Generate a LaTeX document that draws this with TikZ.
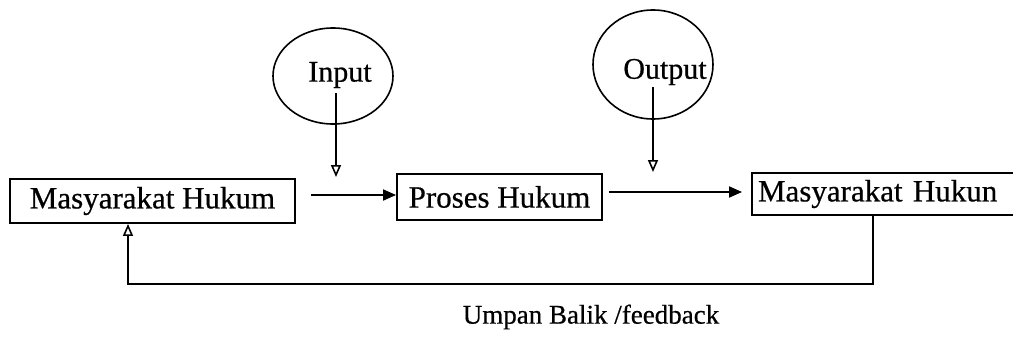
\documentclass[tikz,border=0pt]{standalone}
\usepackage{fontspec}
\setmainfont[FakeBold=0.6]{Liberation Serif}
\usetikzlibrary{arrows.meta,calc,shapes.geometric}
\begin{document}
\begin{tikzpicture}[x=1pt,y=-1pt,
  boxnode/.style={draw,line width=1.9pt,rectangle,inner sep=0pt,font=\fontsize{31}{34}\selectfont},
  circnode/.style={draw,line width=1.6pt,ellipse,inner sep=0pt},
  circtext/.style={inner sep=0pt,font=\fontsize{30}{33}\selectfont},
  solidarrow/.style={line width=1.9pt,-{Triangle[length=13pt,width=11pt]}},
  openarrow/.style={line width=1.9pt,-{Triangle[open,length=12pt,width=10pt,line width=1.6pt]}},
  plainline/.style={line width=1.9pt}]
\useasboundingbox (0,0) rectangle (1013,340);
% boxes
\node[boxnode,minimum width=285pt,minimum height=44pt] (b1) at (152.5,201) {Masyarakat Hukum};
\node[boxnode,minimum width=205pt,minimum height=46pt] (b2) at (499.5,197) {Proses Hukum};
\node[boxnode,minimum height=42pt,text width=250pt,align=left,inner xsep=6pt] (b3) at (883,194) {Masyarakat Hukun};
% circles
\node[circnode,minimum width=120pt,minimum height=96pt] (cin) at (333,76) {};
\node[circtext] (tin) at (340,75) {Input};
\node[circnode,minimum width=120pt,minimum height=109pt] (cout) at (653,64.5) {};
\node[circtext] (tout) at (665,72) {Output};
% arrow end points
\coordinate (inTop) at (336,93);
\coordinate (inTip) at (336,177);
\coordinate (outTop) at (653,87);
\coordinate (outTip) at (653,172);
\draw[openarrow] (inTop) -- (inTip);
\draw[openarrow] (outTop) -- (outTip);
% horizontal arrows
\draw[solidarrow] ($(b1.east)+(15,-6)$) -- ($(b2.west)+(0,-2)$);
\draw[solidarrow] ($(b2.east)+(6,-5)$) -- ($(b3.west)+(-9,-2)$);
% feedback loop
\coordinate (fbR) at (873,284);
\coordinate (fbL) at (128,284);
\draw[openarrow] (b3.south -| fbR) -- (fbR) -- (fbL) -- (b1.south -| fbL);
\node[inner sep=0pt,font=\fontsize{27}{30}\selectfont] (fbtext) at (591,317) {Umpan Balik /feedback};
\end{tikzpicture}
\end{document}
